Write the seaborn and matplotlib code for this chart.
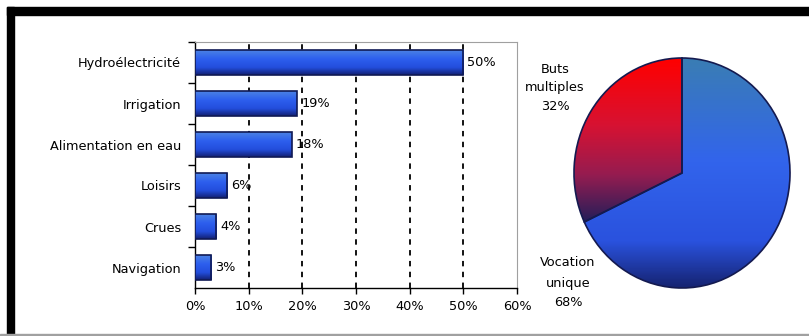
import numpy as np
import pandas as pd
import matplotlib
matplotlib.use("Agg")
import matplotlib.pyplot as plt
import seaborn as sns
from matplotlib.colors import LinearSegmentedColormap
from matplotlib.patches import Rectangle

# ---- data ----
categories = ["Hydroélectricité", "Irrigation", "Alimentation en eau",
              "Loisirs", "Crues", "Navigation"]
values = [50, 19, 18, 6, 4, 3]
x_ticks = [0, 10, 20, 30, 40, 50, 60]
x_tick_labels = ["0%", "10%", "20%", "30%", "40%", "50%", "60%"]
pie_values = [68, 32]
pie_labels = ["Vocation\nunique\n68%", "Buts\nmultiples\n32%"]

sns.set_theme(style="ticks")
plt.rcParams["font.family"] = ["DejaVu Sans"]
plt.rcParams["text.color"] = "black"
plt.rcParams["xtick.labelcolor"] = "black"
plt.rcParams["ytick.labelcolor"] = "black"
FS = 9.3

W, H = 809, 336
fig = plt.figure(figsize=(W / 100, H / 100), dpi=100)
fig.patch.set_facecolor("white")

def c(r, g, b):
    return (r / 255, g / 255, b / 255)

bar_cmap = LinearSegmentedColormap.from_list(
    "bar", [(0, c(75, 130, 228)), (0.35, c(45, 95, 238)), (0.7, c(35, 78, 220)), (1, c(18, 32, 115))])
blue_cmap = LinearSegmentedColormap.from_list(
    "blue", [(0, c(58, 125, 180)), (0.45, c(50, 100, 236)), (0.8, c(42, 82, 222)), (1, c(22, 36, 115))])
red_cmap = LinearSegmentedColormap.from_list(
    "red", [(0, c(255, 0, 0)), (0.4, c(215, 18, 50)), (0.7, c(150, 28, 80)), (1, c(30, 30, 90))])

# ---- bar chart ----
ax = fig.add_axes([195 / W, 1 - 288 / H, 322 / W, 246 / H])
df = pd.DataFrame({"cat": categories, "val": values})
sns.barplot(data=df, y="cat", x="val", orient="h", width=0.6, color="#2f5fe0",
            edgecolor="#101a55", linewidth=1.2, ax=ax, zorder=3)

grad = np.linspace(0, 1, 100).reshape(-1, 1)
for p in list(ax.patches):
    x0, y0, w, h = p.get_x(), p.get_y(), p.get_width(), p.get_height()
    im = ax.imshow(grad, extent=[x0, x0 + w, y0 + h, y0], origin="upper",
                   aspect="auto", cmap=bar_cmap, zorder=3.5, interpolation="bilinear")
    im.set_clip_path(p)
    p.set_facecolor("none")
    p.set_zorder(4)

ax.bar_label(ax.containers[0], labels=[f"{v}%" for v in values], padding=3,
             fontsize=FS, color="black")

for xv in x_ticks[1:-1]:
    ax.axvline(xv, color="black", ls=(0, (3, 3)), lw=1.3, zorder=1)

ax.set_xlim(0, 60)
ax.set_ylim(5.5, -0.5)
ax.set_xticks(x_ticks)
ax.set_xticklabels(x_tick_labels)
ax.set_yticks(range(len(categories)))
ax.set_yticklabels(categories)
ax.set_yticks([i - 0.5 for i in range(len(categories))], minor=True)
ax.set_xlabel("")
ax.set_ylabel("")
ax.tick_params(axis="x", which="major", direction="out", length=4, width=1,
               color="black", labelsize=FS, pad=5, bottom=True)
ax.tick_params(axis="y", which="major", length=0, labelsize=FS, pad=10)
ax.tick_params(axis="y", which="minor", direction="out", length=5, width=1,
               color="black", left=True)
for s in ["left", "bottom"]:
    ax.spines[s].set_color("black")
    ax.spines[s].set_linewidth(1.0)
for s in ["top", "right"]:
    ax.spines[s].set_visible(True)
    ax.spines[s].set_color("#a0a0a0")
    ax.spines[s].set_linewidth(0.8)
ax.set_facecolor("white")

# ---- pie chart ----
ax2 = fig.add_axes([574 / W, 1 - 288 / H, 216 / W, 230 / H])
wedges, _ = ax2.pie(pie_values, startangle=90, counterclock=False,
                    wedgeprops=dict(edgecolor="#141a50", linewidth=1.2))
ax2.set_aspect("auto")
ax2.axis("off")

im_b = ax2.imshow(grad, extent=[-1, 1, -1, 1], origin="upper", aspect="auto",
                  cmap=blue_cmap, zorder=1, interpolation="bilinear")
im_b.set_clip_path(wedges[0])
im_r = ax2.imshow(grad, extent=[-1, 1, -0.45, 1], origin="upper", aspect="auto",
                  cmap=red_cmap, zorder=1, interpolation="bilinear")
im_r.set_clip_path(wedges[1])
for wdg in wedges:
    wdg.set_facecolor("none")
    wdg.set_zorder(2)
ax2.set_xlim(-1.0, 1.0)
ax2.set_ylim(-1.0, 1.0)

fig.text(568 / W, 1 - 283 / H, pie_labels[0], ha="center", va="center",
         fontsize=FS, linespacing=1.7)
fig.text(555 / W, 1 - 88 / H, pie_labels[1], ha="center", va="center",
         fontsize=FS, linespacing=1.55)

# ---- frame ----
fig.add_artist(Rectangle((7 / W, 1 - 15 / H), (W - 7) / W, 8 / H,
                         transform=fig.transFigure, color="black", zorder=0))
fig.add_artist(Rectangle((7 / W, 1 - 334 / H), 7 / W, 327 / H,
                         transform=fig.transFigure, color="black", zorder=0))
fig.add_artist(Rectangle((0, 0), 1, 2 / H, transform=fig.transFigure,
                         color="#a0a0a0", zorder=0))

fig.savefig("out.png", dpi=100)
